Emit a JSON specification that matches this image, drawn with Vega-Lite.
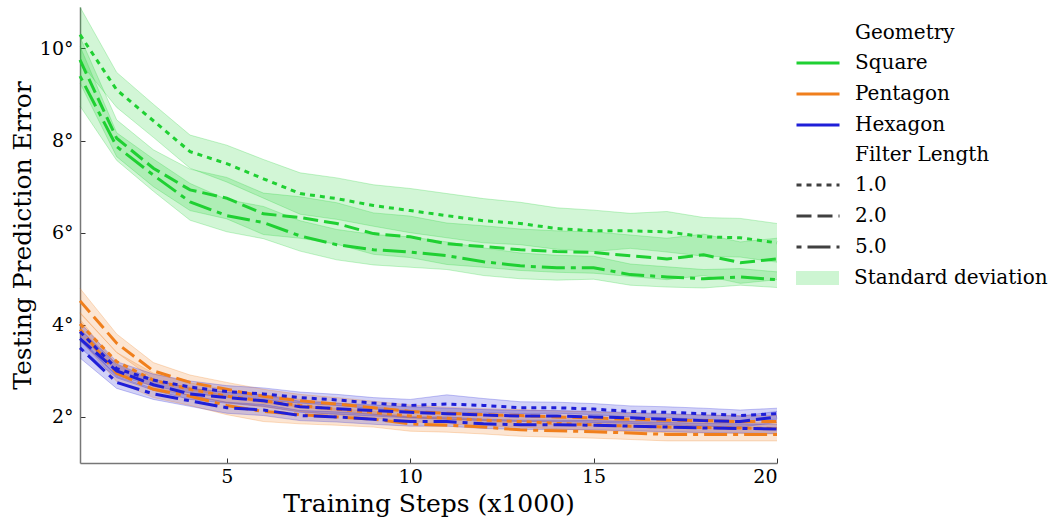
{
"$schema": "https://vega.github.io/schema/vega-lite/v6.json",
"width": 697, "height": 456,
"autosize": {"type": "none"},
"padding": {"left": 80, "top": 7, "right": 282, "bottom": 55},
"background": "white",
"config": {
  "font": "DejaVu Serif",
  "view": {"stroke": null},
  "axis": {"labelFont": "DejaVu Serif", "titleFont": "DejaVu Serif", "labelFontSize": 19, "titleFontSize": 25, "titleFontWeight": "normal", "labelColor": "#000", "titleColor": "#000", "domainColor": "#777", "domainWidth": 1.5, "tickColor": "#333", "tickSize": -5, "tickWidth": 1, "grid": false},
  "legend": {"labelFont": "DejaVu Serif", "titleFont": "DejaVu Serif", "labelFontSize": 20, "titleFontSize": 20, "titleFontWeight": "normal", "labelColor": "#000", "titleColor": "#000", "symbolSize": 1849, "symbolStrokeWidth": 3, "labelOffset": 14, "labelLimit": 400, "clipHeight": 20, "rowPadding": 11, "titlePadding": 10, "padding": 0}
},
"datasets": {
"bandLegend": [{"band": "Standard deviation", "step": 1, "lo": 1.0, "hi": 1.0}],
"runs": [
{"geometry":"Square","filter":"1.0","step":1,"mean":10.3,"lo":9.7,"hi":10.9},
{"geometry":"Square","filter":"1.0","step":2,"mean":9.1,"lo":8.72,"hi":9.48},
{"geometry":"Square","filter":"1.0","step":3,"mean":8.43,"lo":8.07,"hi":8.79},
{"geometry":"Square","filter":"1.0","step":4,"mean":7.76,"lo":7.4,"hi":8.12},
{"geometry":"Square","filter":"1.0","step":5,"mean":7.5,"lo":7.1,"hi":7.9},
{"geometry":"Square","filter":"1.0","step":6,"mean":7.17,"lo":6.75,"hi":7.59},
{"geometry":"Square","filter":"1.0","step":7,"mean":6.85,"lo":6.4,"hi":7.3},
{"geometry":"Square","filter":"1.0","step":8,"mean":6.74,"lo":6.29,"hi":7.19},
{"geometry":"Square","filter":"1.0","step":9,"mean":6.59,"lo":6.14,"hi":7.04},
{"geometry":"Square","filter":"1.0","step":10,"mean":6.48,"lo":6.0,"hi":6.96},
{"geometry":"Square","filter":"1.0","step":11,"mean":6.37,"lo":5.89,"hi":6.85},
{"geometry":"Square","filter":"1.0","step":12,"mean":6.26,"lo":5.78,"hi":6.74},
{"geometry":"Square","filter":"1.0","step":13,"mean":6.2,"lo":5.74,"hi":6.66},
{"geometry":"Square","filter":"1.0","step":14,"mean":6.09,"lo":5.64,"hi":6.54},
{"geometry":"Square","filter":"1.0","step":15,"mean":6.04,"lo":5.59,"hi":6.49},
{"geometry":"Square","filter":"1.0","step":16,"mean":6.04,"lo":5.66,"hi":6.42},
{"geometry":"Square","filter":"1.0","step":17,"mean":6.02,"lo":5.58,"hi":6.46},
{"geometry":"Square","filter":"1.0","step":18,"mean":5.91,"lo":5.49,"hi":6.33},
{"geometry":"Square","filter":"1.0","step":19,"mean":5.89,"lo":5.47,"hi":6.31},
{"geometry":"Square","filter":"1.0","step":20,"mean":5.78,"lo":5.36,"hi":6.2},
{"geometry":"Square","filter":"2.0","step":1,"mean":9.75,"lo":9.25,"hi":10.25},
{"geometry":"Square","filter":"2.0","step":2,"mean":8.05,"lo":7.65,"hi":8.45},
{"geometry":"Square","filter":"2.0","step":3,"mean":7.4,"lo":7.0,"hi":7.8},
{"geometry":"Square","filter":"2.0","step":4,"mean":6.93,"lo":6.48,"hi":7.38},
{"geometry":"Square","filter":"2.0","step":5,"mean":6.75,"lo":6.3,"hi":7.2},
{"geometry":"Square","filter":"2.0","step":6,"mean":6.41,"lo":5.96,"hi":6.86},
{"geometry":"Square","filter":"2.0","step":7,"mean":6.33,"lo":5.88,"hi":6.78},
{"geometry":"Square","filter":"2.0","step":8,"mean":6.2,"lo":5.75,"hi":6.65},
{"geometry":"Square","filter":"2.0","step":9,"mean":5.98,"lo":5.53,"hi":6.43},
{"geometry":"Square","filter":"2.0","step":10,"mean":5.91,"lo":5.46,"hi":6.36},
{"geometry":"Square","filter":"2.0","step":11,"mean":5.76,"lo":5.31,"hi":6.21},
{"geometry":"Square","filter":"2.0","step":12,"mean":5.7,"lo":5.25,"hi":6.15},
{"geometry":"Square","filter":"2.0","step":13,"mean":5.63,"lo":5.18,"hi":6.08},
{"geometry":"Square","filter":"2.0","step":14,"mean":5.59,"lo":5.14,"hi":6.04},
{"geometry":"Square","filter":"2.0","step":15,"mean":5.57,"lo":5.12,"hi":6.02},
{"geometry":"Square","filter":"2.0","step":16,"mean":5.5,"lo":5.05,"hi":5.95},
{"geometry":"Square","filter":"2.0","step":17,"mean":5.43,"lo":4.98,"hi":5.88},
{"geometry":"Square","filter":"2.0","step":18,"mean":5.52,"lo":5.07,"hi":5.97},
{"geometry":"Square","filter":"2.0","step":19,"mean":5.35,"lo":4.9,"hi":5.8},
{"geometry":"Square","filter":"2.0","step":20,"mean":5.43,"lo":4.98,"hi":5.88},
{"geometry":"Square","filter":"5.0","step":1,"mean":9.4,"lo":8.75,"hi":10.05},
{"geometry":"Square","filter":"5.0","step":2,"mean":7.87,"lo":7.57,"hi":8.17},
{"geometry":"Square","filter":"5.0","step":3,"mean":7.25,"lo":6.9,"hi":7.6},
{"geometry":"Square","filter":"5.0","step":4,"mean":6.67,"lo":6.27,"hi":7.07},
{"geometry":"Square","filter":"5.0","step":5,"mean":6.37,"lo":6.02,"hi":6.72},
{"geometry":"Square","filter":"5.0","step":6,"mean":6.22,"lo":5.87,"hi":6.57},
{"geometry":"Square","filter":"5.0","step":7,"mean":5.93,"lo":5.6,"hi":6.26},
{"geometry":"Square","filter":"5.0","step":8,"mean":5.74,"lo":5.41,"hi":6.07},
{"geometry":"Square","filter":"5.0","step":9,"mean":5.63,"lo":5.3,"hi":5.96},
{"geometry":"Square","filter":"5.0","step":10,"mean":5.58,"lo":5.25,"hi":5.91},
{"geometry":"Square","filter":"5.0","step":11,"mean":5.5,"lo":5.2,"hi":5.8},
{"geometry":"Square","filter":"5.0","step":12,"mean":5.37,"lo":5.07,"hi":5.67},
{"geometry":"Square","filter":"5.0","step":13,"mean":5.28,"lo":5.0,"hi":5.56},
{"geometry":"Square","filter":"5.0","step":14,"mean":5.24,"lo":4.97,"hi":5.51},
{"geometry":"Square","filter":"5.0","step":15,"mean":5.24,"lo":4.99,"hi":5.49},
{"geometry":"Square","filter":"5.0","step":16,"mean":5.09,"lo":4.86,"hi":5.32},
{"geometry":"Square","filter":"5.0","step":17,"mean":5.04,"lo":4.82,"hi":5.26},
{"geometry":"Square","filter":"5.0","step":18,"mean":5.0,"lo":4.8,"hi":5.2},
{"geometry":"Square","filter":"5.0","step":19,"mean":5.04,"lo":4.86,"hi":5.22},
{"geometry":"Square","filter":"5.0","step":20,"mean":4.98,"lo":4.81,"hi":5.15},
{"geometry":"Pentagon","filter":"1.0","step":1,"mean":4.02,"lo":3.77,"hi":4.27},
{"geometry":"Pentagon","filter":"1.0","step":2,"mean":3.2,"lo":3.0,"hi":3.4},
{"geometry":"Pentagon","filter":"1.0","step":3,"mean":2.8,"lo":2.65,"hi":2.95},
{"geometry":"Pentagon","filter":"1.0","step":4,"mean":2.6,"lo":2.46,"hi":2.74},
{"geometry":"Pentagon","filter":"1.0","step":5,"mean":2.45,"lo":2.31,"hi":2.59},
{"geometry":"Pentagon","filter":"1.0","step":6,"mean":2.35,"lo":2.22,"hi":2.48},
{"geometry":"Pentagon","filter":"1.0","step":7,"mean":2.25,"lo":2.12,"hi":2.38},
{"geometry":"Pentagon","filter":"1.0","step":8,"mean":2.17,"lo":2.04,"hi":2.3},
{"geometry":"Pentagon","filter":"1.0","step":9,"mean":2.1,"lo":1.98,"hi":2.22},
{"geometry":"Pentagon","filter":"1.0","step":10,"mean":2.02,"lo":1.9,"hi":2.14},
{"geometry":"Pentagon","filter":"1.0","step":11,"mean":1.97,"lo":1.85,"hi":2.09},
{"geometry":"Pentagon","filter":"1.0","step":12,"mean":1.93,"lo":1.81,"hi":2.05},
{"geometry":"Pentagon","filter":"1.0","step":13,"mean":1.9,"lo":1.78,"hi":2.02},
{"geometry":"Pentagon","filter":"1.0","step":14,"mean":1.86,"lo":1.74,"hi":1.98},
{"geometry":"Pentagon","filter":"1.0","step":15,"mean":1.83,"lo":1.71,"hi":1.95},
{"geometry":"Pentagon","filter":"1.0","step":16,"mean":1.8,"lo":1.68,"hi":1.92},
{"geometry":"Pentagon","filter":"1.0","step":17,"mean":1.78,"lo":1.66,"hi":1.9},
{"geometry":"Pentagon","filter":"1.0","step":18,"mean":1.77,"lo":1.65,"hi":1.89},
{"geometry":"Pentagon","filter":"1.0","step":19,"mean":1.76,"lo":1.64,"hi":1.88},
{"geometry":"Pentagon","filter":"1.0","step":20,"mean":1.75,"lo":1.63,"hi":1.87},
{"geometry":"Pentagon","filter":"2.0","step":1,"mean":4.52,"lo":4.25,"hi":4.79},
{"geometry":"Pentagon","filter":"2.0","step":2,"mean":3.6,"lo":3.4,"hi":3.8},
{"geometry":"Pentagon","filter":"2.0","step":3,"mean":3.0,"lo":2.82,"hi":3.18},
{"geometry":"Pentagon","filter":"2.0","step":4,"mean":2.75,"lo":2.59,"hi":2.91},
{"geometry":"Pentagon","filter":"2.0","step":5,"mean":2.6,"lo":2.45,"hi":2.75},
{"geometry":"Pentagon","filter":"2.0","step":6,"mean":2.45,"lo":2.3,"hi":2.6},
{"geometry":"Pentagon","filter":"2.0","step":7,"mean":2.35,"lo":2.21,"hi":2.49},
{"geometry":"Pentagon","filter":"2.0","step":8,"mean":2.28,"lo":2.14,"hi":2.42},
{"geometry":"Pentagon","filter":"2.0","step":9,"mean":2.2,"lo":2.06,"hi":2.34},
{"geometry":"Pentagon","filter":"2.0","step":10,"mean":2.12,"lo":1.98,"hi":2.26},
{"geometry":"Pentagon","filter":"2.0","step":11,"mean":2.08,"lo":1.95,"hi":2.21},
{"geometry":"Pentagon","filter":"2.0","step":12,"mean":2.05,"lo":1.92,"hi":2.18},
{"geometry":"Pentagon","filter":"2.0","step":13,"mean":2.03,"lo":1.9,"hi":2.16},
{"geometry":"Pentagon","filter":"2.0","step":14,"mean":2.0,"lo":1.87,"hi":2.13},
{"geometry":"Pentagon","filter":"2.0","step":15,"mean":1.98,"lo":1.85,"hi":2.11},
{"geometry":"Pentagon","filter":"2.0","step":16,"mean":1.95,"lo":1.82,"hi":2.08},
{"geometry":"Pentagon","filter":"2.0","step":17,"mean":1.93,"lo":1.8,"hi":2.06},
{"geometry":"Pentagon","filter":"2.0","step":18,"mean":1.92,"lo":1.79,"hi":2.05},
{"geometry":"Pentagon","filter":"2.0","step":19,"mean":1.9,"lo":1.77,"hi":2.03},
{"geometry":"Pentagon","filter":"2.0","step":20,"mean":1.9,"lo":1.77,"hi":2.03},
{"geometry":"Pentagon","filter":"5.0","step":1,"mean":3.9,"lo":3.68,"hi":4.12},
{"geometry":"Pentagon","filter":"5.0","step":2,"mean":2.95,"lo":2.77,"hi":3.13},
{"geometry":"Pentagon","filter":"5.0","step":3,"mean":2.6,"lo":2.42,"hi":2.78},
{"geometry":"Pentagon","filter":"5.0","step":4,"mean":2.45,"lo":2.25,"hi":2.65},
{"geometry":"Pentagon","filter":"5.0","step":5,"mean":2.25,"lo":2.05,"hi":2.45},
{"geometry":"Pentagon","filter":"5.0","step":6,"mean":2.12,"lo":1.9,"hi":2.34},
{"geometry":"Pentagon","filter":"5.0","step":7,"mean":2.05,"lo":1.85,"hi":2.25},
{"geometry":"Pentagon","filter":"5.0","step":8,"mean":2.0,"lo":1.82,"hi":2.18},
{"geometry":"Pentagon","filter":"5.0","step":9,"mean":1.95,"lo":1.78,"hi":2.12},
{"geometry":"Pentagon","filter":"5.0","step":10,"mean":1.85,"lo":1.69,"hi":2.01},
{"geometry":"Pentagon","filter":"5.0","step":11,"mean":1.82,"lo":1.67,"hi":1.97},
{"geometry":"Pentagon","filter":"5.0","step":12,"mean":1.78,"lo":1.63,"hi":1.93},
{"geometry":"Pentagon","filter":"5.0","step":13,"mean":1.72,"lo":1.58,"hi":1.86},
{"geometry":"Pentagon","filter":"5.0","step":14,"mean":1.7,"lo":1.56,"hi":1.84},
{"geometry":"Pentagon","filter":"5.0","step":15,"mean":1.68,"lo":1.54,"hi":1.82},
{"geometry":"Pentagon","filter":"5.0","step":16,"mean":1.65,"lo":1.51,"hi":1.79},
{"geometry":"Pentagon","filter":"5.0","step":17,"mean":1.62,"lo":1.48,"hi":1.76},
{"geometry":"Pentagon","filter":"5.0","step":18,"mean":1.62,"lo":1.48,"hi":1.76},
{"geometry":"Pentagon","filter":"5.0","step":19,"mean":1.62,"lo":1.48,"hi":1.76},
{"geometry":"Pentagon","filter":"5.0","step":20,"mean":1.62,"lo":1.48,"hi":1.76},
{"geometry":"Hexagon","filter":"1.0","step":1,"mean":3.85,"lo":3.65,"hi":4.05},
{"geometry":"Hexagon","filter":"1.0","step":2,"mean":3.05,"lo":2.9,"hi":3.2},
{"geometry":"Hexagon","filter":"1.0","step":3,"mean":2.8,"lo":2.67,"hi":2.93},
{"geometry":"Hexagon","filter":"1.0","step":4,"mean":2.65,"lo":2.52,"hi":2.78},
{"geometry":"Hexagon","filter":"1.0","step":5,"mean":2.55,"lo":2.42,"hi":2.68},
{"geometry":"Hexagon","filter":"1.0","step":6,"mean":2.5,"lo":2.37,"hi":2.63},
{"geometry":"Hexagon","filter":"1.0","step":7,"mean":2.42,"lo":2.3,"hi":2.54},
{"geometry":"Hexagon","filter":"1.0","step":8,"mean":2.37,"lo":2.25,"hi":2.49},
{"geometry":"Hexagon","filter":"1.0","step":9,"mean":2.3,"lo":2.18,"hi":2.42},
{"geometry":"Hexagon","filter":"1.0","step":10,"mean":2.25,"lo":2.12,"hi":2.38},
{"geometry":"Hexagon","filter":"1.0","step":11,"mean":2.28,"lo":2.08,"hi":2.48},
{"geometry":"Hexagon","filter":"1.0","step":12,"mean":2.25,"lo":2.1,"hi":2.4},
{"geometry":"Hexagon","filter":"1.0","step":13,"mean":2.2,"lo":2.07,"hi":2.33},
{"geometry":"Hexagon","filter":"1.0","step":14,"mean":2.2,"lo":2.08,"hi":2.32},
{"geometry":"Hexagon","filter":"1.0","step":15,"mean":2.17,"lo":2.05,"hi":2.29},
{"geometry":"Hexagon","filter":"1.0","step":16,"mean":2.12,"lo":2.0,"hi":2.24},
{"geometry":"Hexagon","filter":"1.0","step":17,"mean":2.1,"lo":1.98,"hi":2.22},
{"geometry":"Hexagon","filter":"1.0","step":18,"mean":2.07,"lo":1.95,"hi":2.19},
{"geometry":"Hexagon","filter":"1.0","step":19,"mean":2.03,"lo":1.91,"hi":2.15},
{"geometry":"Hexagon","filter":"1.0","step":20,"mean":2.07,"lo":1.95,"hi":2.19},
{"geometry":"Hexagon","filter":"2.0","step":1,"mean":3.7,"lo":3.5,"hi":3.9},
{"geometry":"Hexagon","filter":"2.0","step":2,"mean":3.0,"lo":2.85,"hi":3.15},
{"geometry":"Hexagon","filter":"2.0","step":3,"mean":2.7,"lo":2.58,"hi":2.82},
{"geometry":"Hexagon","filter":"2.0","step":4,"mean":2.5,"lo":2.38,"hi":2.62},
{"geometry":"Hexagon","filter":"2.0","step":5,"mean":2.42,"lo":2.3,"hi":2.54},
{"geometry":"Hexagon","filter":"2.0","step":6,"mean":2.35,"lo":2.23,"hi":2.47},
{"geometry":"Hexagon","filter":"2.0","step":7,"mean":2.22,"lo":2.1,"hi":2.34},
{"geometry":"Hexagon","filter":"2.0","step":8,"mean":2.18,"lo":2.06,"hi":2.3},
{"geometry":"Hexagon","filter":"2.0","step":9,"mean":2.14,"lo":2.02,"hi":2.26},
{"geometry":"Hexagon","filter":"2.0","step":10,"mean":2.1,"lo":1.98,"hi":2.22},
{"geometry":"Hexagon","filter":"2.0","step":11,"mean":2.07,"lo":1.95,"hi":2.19},
{"geometry":"Hexagon","filter":"2.0","step":12,"mean":2.04,"lo":1.92,"hi":2.16},
{"geometry":"Hexagon","filter":"2.0","step":13,"mean":2.02,"lo":1.9,"hi":2.14},
{"geometry":"Hexagon","filter":"2.0","step":14,"mean":2.02,"lo":1.9,"hi":2.14},
{"geometry":"Hexagon","filter":"2.0","step":15,"mean":2.0,"lo":1.88,"hi":2.12},
{"geometry":"Hexagon","filter":"2.0","step":16,"mean":1.98,"lo":1.86,"hi":2.1},
{"geometry":"Hexagon","filter":"2.0","step":17,"mean":1.95,"lo":1.83,"hi":2.07},
{"geometry":"Hexagon","filter":"2.0","step":18,"mean":1.92,"lo":1.8,"hi":2.04},
{"geometry":"Hexagon","filter":"2.0","step":19,"mean":1.9,"lo":1.78,"hi":2.02},
{"geometry":"Hexagon","filter":"2.0","step":20,"mean":2.0,"lo":1.88,"hi":2.12},
{"geometry":"Hexagon","filter":"5.0","step":1,"mean":3.5,"lo":3.28,"hi":3.72},
{"geometry":"Hexagon","filter":"5.0","step":2,"mean":2.75,"lo":2.62,"hi":2.88},
{"geometry":"Hexagon","filter":"5.0","step":3,"mean":2.5,"lo":2.38,"hi":2.62},
{"geometry":"Hexagon","filter":"5.0","step":4,"mean":2.35,"lo":2.23,"hi":2.47},
{"geometry":"Hexagon","filter":"5.0","step":5,"mean":2.2,"lo":2.08,"hi":2.32},
{"geometry":"Hexagon","filter":"5.0","step":6,"mean":2.15,"lo":2.03,"hi":2.27},
{"geometry":"Hexagon","filter":"5.0","step":7,"mean":2.03,"lo":1.92,"hi":2.14},
{"geometry":"Hexagon","filter":"5.0","step":8,"mean":2.0,"lo":1.89,"hi":2.11},
{"geometry":"Hexagon","filter":"5.0","step":9,"mean":1.95,"lo":1.84,"hi":2.06},
{"geometry":"Hexagon","filter":"5.0","step":10,"mean":1.9,"lo":1.8,"hi":2.0},
{"geometry":"Hexagon","filter":"5.0","step":11,"mean":1.9,"lo":1.8,"hi":2.0},
{"geometry":"Hexagon","filter":"5.0","step":12,"mean":1.85,"lo":1.75,"hi":1.95},
{"geometry":"Hexagon","filter":"5.0","step":13,"mean":1.83,"lo":1.73,"hi":1.93},
{"geometry":"Hexagon","filter":"5.0","step":14,"mean":1.83,"lo":1.73,"hi":1.93},
{"geometry":"Hexagon","filter":"5.0","step":15,"mean":1.82,"lo":1.72,"hi":1.92},
{"geometry":"Hexagon","filter":"5.0","step":16,"mean":1.8,"lo":1.7,"hi":1.9},
{"geometry":"Hexagon","filter":"5.0","step":17,"mean":1.78,"lo":1.68,"hi":1.88},
{"geometry":"Hexagon","filter":"5.0","step":18,"mean":1.76,"lo":1.66,"hi":1.86},
{"geometry":"Hexagon","filter":"5.0","step":19,"mean":1.75,"lo":1.65,"hi":1.85},
{"geometry":"Hexagon","filter":"5.0","step":20,"mean":1.74,"lo":1.64,"hi":1.84}
]},
"data": {"name": "runs"},
"encoding": {
  "x": {"field": "step", "type": "quantitative", "scale": {"domain": [1, 20], "nice": false, "zero": false},
        "axis": {"values": [5, 10, 15, 20], "title": "Training Steps (x1000)", "labelPadding": 9, "titlePadding": 5}}
},
"layer": [
  {"mark": {"type": "area", "fillOpacity": 0.2},
   "encoding": {
     "y": {"field": "lo", "type": "quantitative"},
     "y2": {"field": "hi"},
     "detail": {"field": "filter"},
     "fill": {"field": "geometry", "type": "nominal", "scale": {"domain": ["Square", "Pentagon", "Hexagon"], "range": ["#1fd032", "#f07f1c", "#1f1fd8"]}}
   }},
  {"mark": {"type": "line", "strokeWidth": 1, "strokeOpacity": 0.25},
   "encoding": {"y": {"field": "lo", "type": "quantitative"}, "detail": {"field": "filter"}, "stroke": {"field": "geometry", "type": "nominal", "scale": {"domain": ["Square", "Pentagon", "Hexagon"], "range": ["#1fd032", "#f07f1c", "#1f1fd8"]}}}},
  {"mark": {"type": "line", "strokeWidth": 1, "strokeOpacity": 0.25},
   "encoding": {"y": {"field": "hi", "type": "quantitative"}, "detail": {"field": "filter"}, "stroke": {"field": "geometry", "type": "nominal"}}},
  {"mark": {"type": "line", "strokeWidth": 3},
   "encoding": {
     "y": {"field": "mean", "type": "quantitative", "scale": {"domain": [1.0, 10.9], "nice": false, "zero": false},
           "axis": {"values": [2, 4, 6, 8, 10], "labelExpr": "datum.value + '°'", "title": "Testing Prediction Error", "labelPadding": 12, "titlePadding": 4}},
     "color": {"field": "geometry", "type": "nominal", "scale": {"domain": ["Square", "Pentagon", "Hexagon"], "range": ["#1fd032", "#f07f1c", "#1f1fd8"]},
        "legend": {"title": "Geometry", "orient": "none", "legendX": 715, "legendY": 16, "symbolType": "stroke", "encode": {"title": {"update": {"dx": {"value": 60}}}}}},
     "strokeDash": {"field": "filter", "type": "nominal", "scale": {"domain": ["1.0", "2.0", "5.0"], "range": [[5, 5], [15, 6], [5, 6, 23, 6]]},
        "legend": {"title": "Filter Length", "orient": "none", "legendX": 715, "legendY": 138, "symbolType": "stroke", "symbolStrokeColor": "#404040", "encode": {"title": {"update": {"dx": {"value": 60}}}}}}
   }},
  {"data": {"name": "bandLegend"},
   "mark": {"type": "area", "fill": "#1fd032"},
   "encoding": {
     "y": {"field": "lo", "type": "quantitative"},
     "y2": {"field": "hi"},
     "opacity": {"field": "band", "type": "ordinal", "scale": {"range": [0.22, 0.22]},
        "legend": {"title": null, "orient": "none", "legendX": 715, "legendY": 261, "symbolType": "M-1,-0.33H1V0.33H-1Z", "symbolFillColor": "#1fd032", "symbolStrokeColor": "#1fd032", "symbolStrokeWidth": 2}}
   }}
]
}
